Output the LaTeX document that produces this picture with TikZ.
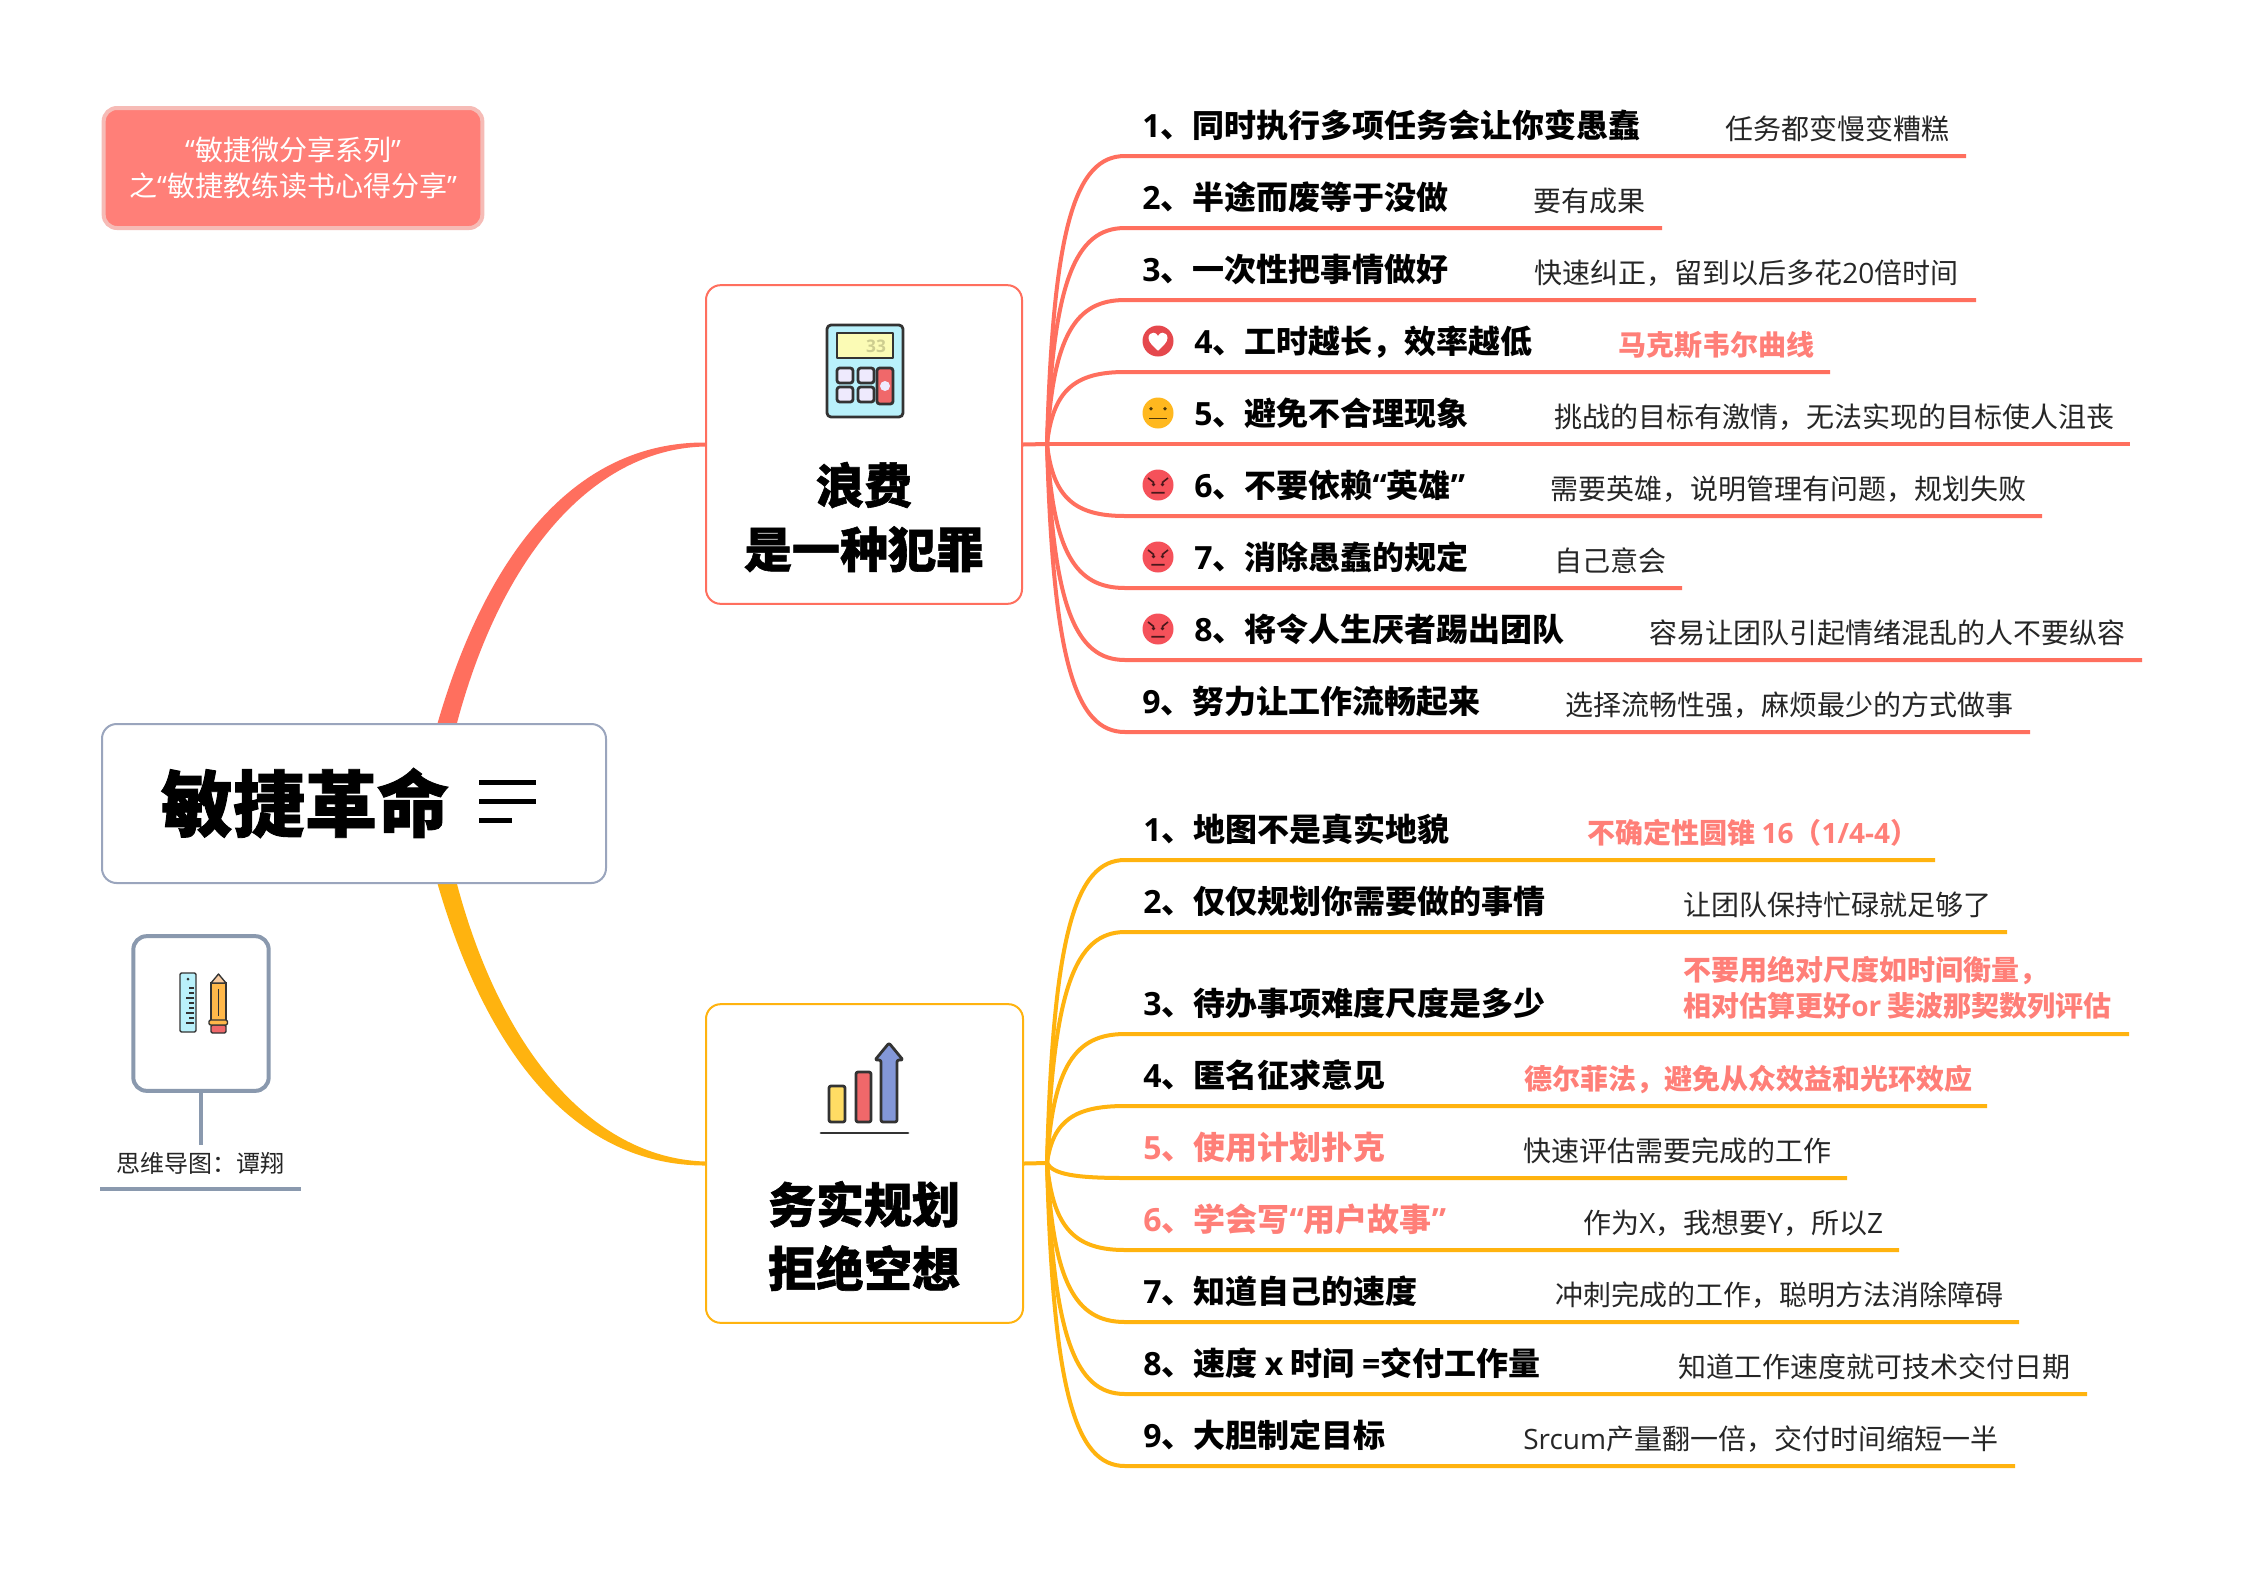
\documentclass[tikz,border=0pt]{standalone}
\usepackage{fontspec}
\usetikzlibrary{calc}
\setmainfont{Noto Sans CJK SC}
\newfontfamily\lat{Open Sans}
\newfontfamily\heavy[BoldFeatures={FakeBold=1.2}]{Noto Sans CJK SC}
\newcommand\La[1]{{\lat #1}}
\definecolor{cA}{HTML}{FF6F5E}
\definecolor{cB}{HTML}{FFB30F}
\definecolor{pk}{HTML}{FF7F78}
\definecolor{pkb}{HTML}{F6BBB6}
\definecolor{gy}{HTML}{8A99AE}
\definecolor{gyc}{HTML}{9AA5BD}
\definecolor{ink}{HTML}{333333}
\definecolor{emoR}{HTML}{F5515A}
\definecolor{emoH}{HTML}{E5484D}
\definecolor{emoY}{HTML}{FFB81F}
\definecolor{icCy}{HTML}{B9F1FB}
\definecolor{icSc}{HTML}{FBFBB5}
\definecolor{icBt}{HTML}{EEEAFD}
\definecolor{icRd}{HTML}{F0686A}
\definecolor{icYl}{HTML}{FFDC64}
\definecolor{icBl}{HTML}{8397D8}
\definecolor{icOr}{HTML}{FFB84A}
\definecolor{icTp}{HTML}{F8CBA0}
\definecolor{ic33}{HTML}{CDCD90}
\tikzset{
  maintext/.style={font=\bfseries\fontsize{24}{30}\selectfont,anchor=base west,inner sep=0pt,text=black},
  notetext/.style={font=\fontsize{21}{27}\selectfont,anchor=base west,inner sep=0pt,text=black!85},
  noteb/.style={font=\bfseries\fontsize{21}{27}\selectfont,anchor=base west,inner sep=0pt,text=pk},
  brtitle/.style={font=\heavy\bfseries\fontsize{36}{48}\selectfont,align=center,inner sep=0pt,text=black},
  brbox/.style={draw=#1,line width=1.5pt,rounded corners=11pt,fill=white,minimum width=237pt,minimum height=239pt,inner sep=0pt},
  icon/.style={draw=ink,line width=2.1pt,line join=round},
}
% hub, id, y of line, x end, colour
\newcommand\BrLine[5]{%
  \coordinate (s#2) at (1125,#3);
  \coordinate (e#2) at (#4,#3);
  \draw[#5,line width=3pt,line join=round] (#1) .. controls +(6,{0.75*(#3-\hy)}) and +(-50,0) .. (s#2) -- (e#2);
}
\newcommand\angryface[2]{%
  \begin{scope}[shift={(#1,#2)}]
    \fill[emoR] (0,0) circle (15.5);
    \draw[line width=1.2pt,draw=black!70!emoR] (-10,-7) -- (-4,-2.3) (10,-7) -- (4,-2.3) (-6.7,7.7) -- (6.7,7.7);
    \fill[black!70!emoR] (-4.5,-0.5) circle (1.8) (4.5,-0.5) circle (1.8);
  \end{scope}}
\begin{document}
\begin{tikzpicture}[x=0.75pt,y=-0.75pt]
\useasboundingbox (0,0) rectangle (2242,1568);
\fill[white] (0,0) rectangle (2242,1568);

% nodes for the main boxes
\node[brbox=cA] (brA) at (864,444.5) {};
\node[brbox=cB,minimum width=237.75pt] (brB) at (864.5,1163.5) {};
\coordinate (hubA) at (1047,444);
\coordinate (hubB) at (1047,1163);

% tapered main branches
\fill[cA] (431,747) .. controls (482,552) and (576,442) .. ($(brA.west)+(0,-2)$) -- ($(brA.west)+(0,2)$) .. controls (590,449) and (494,562) .. (451,747) -- cycle;
\fill[cB] (431,860) .. controls (482,1055) and (576,1165.5) .. ($(brB.west)+(0,2)$) -- ($(brB.west)+(0,-2)$) .. controls (590,1158) and (494,1045) .. (451,860) -- cycle;

% central box
\node[draw=gyc,line width=1.5pt,rounded corners=11pt,fill=white,minimum width=378pt,minimum height=119.25pt,inner sep=0pt] (root) at (354,803.5) {};
\node[font=\heavy\bfseries\fontsize{54}{60}\selectfont,inner sep=0pt] (roott) at (305,803) {敏捷革命};
\coordinate (b1) at (479,782); \coordinate (b1e) at (536,782);
\coordinate (b2) at (479,801); \coordinate (b2e) at (536,801);
\coordinate (b3) at (479,820); \coordinate (b3e) at (512,820);
\draw[black,line width=3.75pt] (b1) -- (b1e) (b2) -- (b2e) (b3) -- (b3e);

% top-left box
\node[draw=pkb,fill=pk,line width=3pt,rounded corners=10pt,minimum width=284pt,minimum height=90pt,inner sep=0pt,
  text=white,align=center,font=\fontsize{21}{27}\selectfont] (series) at (293,168) {\La{“}敏捷微分享系列\La{”}\\之\La{“}敏捷教练读书心得分享\La{”}};

% small pen box
\node[draw=gy,line width=3pt,rounded corners=10pt,fill=white,minimum width=101.5pt,minimum height=116pt,inner sep=0pt] (pen) at (201,1013.5) {};
\coordinate (penl) at (201,1145);
\draw[gy,line width=3pt] (pen.south -| penl) -- (penl);
\node[font=\fontsize{18}{22}\selectfont,inner sep=0pt,text=black!85] (penlabel) at (200.5,1163) {思维导图：谭翔};
\coordinate (ul1) at (100,1189); \coordinate (ul2) at (301,1189);
\draw[gy,line width=3pt] (ul1) -- (ul2);
% ruler
\draw[fill=icCy,draw=ink,line width=1pt,rounded corners=1pt] (180,973) rectangle (196,1032);
\fill[ink] (188,979) circle (1.5);
\foreach \yy/\ww in {988/5,993/5,998/8,1003/5,1008/5,1013/8,1018/5,1023/8}
  \draw[ink,line width=0.8pt] (194,\yy) -- ++(-\ww,0);
% pencil
\draw[fill=icOr,draw=ink,line width=1pt] (211,983) rectangle (226,1021);
\draw[fill=icTp,draw=ink,line width=1pt,line join=round] (211,983) -- (218.5,974) -- (226,983) -- cycle;
\draw[ink,line width=0.6pt] (218.5,989) -- (218.5,1016);
\draw[fill=icRd,draw=ink,line width=1pt,rounded corners=1pt] (211,1025) rectangle (226,1033);
\draw[fill=icOr,draw=ink,line width=1pt,rounded corners=1pt] (209,1020) rectangle (227.5,1025);

% branch titles
\node[brtitle] (ta) at (864,517) {浪费\\是一种犯罪};
\node[brtitle] (tb) at (864,1236) {务实规划\\拒绝空想};

% calculator
\draw[icon,fill=icCy,rounded corners=3pt] (827,325) rectangle (903,417);
\draw[icon,fill=icSc] (837,333) rectangle (893,358);
\node[font=\bfseries\fontsize{13}{14}\selectfont\lat,text=ic33,inner sep=0pt] (c33) at (876,346) {33};
\foreach \x in {837,858} \foreach \y in {368,387}
  \draw[icon,fill=icBt,rounded corners=2pt] (\x,\y) rectangle ++(16,15);
\draw[icon,fill=icRd,rounded corners=2pt] (877,368) rectangle (893,404);
\fill[icBt] (885,386) circle (5);

% chart
\draw[ink,line width=2.1pt,line cap=round] (821,1133) -- (908,1133);
\draw[icon,fill=icYl,rounded corners=1.5pt] (829,1086) rectangle (845,1122);
\draw[icon,fill=icRd,rounded corners=1.5pt] (856,1072) rectangle (871,1122);
\draw[icon,fill=icBl,rounded corners=1.5pt] (881,1122) -- (881,1060) -- (875,1060) -- (889,1043) -- (903,1060) -- (897,1060) -- (897,1122) -- cycle;

% branch A items
\def\hy{444}
\draw[cA,line width=3pt] (brA.east) -- (hubA);
\BrLine{hubA}{a1}{156}{1966}{cA}
\BrLine{hubA}{a2}{228}{1662}{cA}
\BrLine{hubA}{a3}{300}{1976}{cA}
\BrLine{hubA}{a4}{372}{1830}{cA}
\BrLine{hubA}{a5}{444}{2130}{cA}
\BrLine{hubA}{a6}{516}{2042}{cA}
\BrLine{hubA}{a7}{588}{1682}{cA}
\BrLine{hubA}{a8}{660}{2142}{cA}
\BrLine{hubA}{a9}{732}{2030}{cA}
\node[maintext] (ma1) at (1142,137) {\La{1}、同时执行多项任务会让你变愚蠢};
\node[notetext] (na1) at (1725,139) {任务都变慢变糟糕};
\node[maintext] (ma2) at (1142,209) {\La{2}、半途而废等于没做};
\node[notetext] (na2) at (1533,211) {要有成果};
\node[maintext] (ma3) at (1142,281) {\La{3}、一次性把事情做好};
\node[notetext] (na3) at (1534,283) {快速纠正，留到以后多花\La{20}倍时间};
\node[maintext] (ma4) at (1194,353) {\La{4}、工时越长，效率越低};
\node[noteb] (na4) at (1618,355) {马克斯韦尔曲线};
\node[maintext] (ma5) at (1194,425) {\La{5}、避免不合理现象};
\node[notetext] (na5) at (1554,427) {挑战的目标有激情，无法实现的目标使人沮丧};
\node[maintext] (ma6) at (1194,497) {\La{6}、不要依赖\La{“}英雄\La{”}};
\node[notetext] (na6) at (1550,499) {需要英雄，说明管理有问题，规划失败};
\node[maintext] (ma7) at (1194,569) {\La{7}、消除愚蠢的规定};
\node[notetext] (na7) at (1554,571) {自己意会};
\node[maintext] (ma8) at (1194,641) {\La{8}、将令人生厌者踢出团队};
\node[notetext] (na8) at (1649,643) {容易让团队引起情绪混乱的人不要纵容};
\node[maintext] (ma9) at (1142,713) {\La{9}、努力让工作流畅起来};
\node[notetext] (na9) at (1565,715) {选择流畅性强，麻烦最少的方式做事};

% emoji
\begin{scope}[shift={(1158,341)}]
  \fill[emoH] (0,0) circle (15.5);
  \fill[white] (0,9.7) .. controls (-4,6) and (-9.5,1.5) .. (-9.5,-3) .. controls (-9.5,-6.5) and (-7,-8.3) .. (-4.5,-8.3) .. controls (-2.5,-8.3) and (-1,-7) .. (0,-5) .. controls (1,-7) and (2.5,-8.3) .. (4.5,-8.3) .. controls (7,-8.3) and (9.5,-6.5) .. (9.5,-3) .. controls (9.5,1.5) and (4,6) .. (0,9.7) -- cycle;
\end{scope}
\begin{scope}[shift={(1158,413)}]
  \fill[emoY] (0,0) circle (15.5);
  \fill[black!70!emoY] (-7,-4.3) circle (1.9) (7,-4.3) circle (1.9);
  \draw[black!70!emoY,line width=1.2pt] (-8.7,5.3) -- (8.7,5.3);
\end{scope}
\angryface{1158}{485}
\angryface{1158}{557}
\angryface{1158}{629}

% branch B items
\def\hy{1163}
\draw[cB,line width=3pt] (brB.east) -- (hubB);
\BrLine{hubB}{b1}{860}{1935}{cB}
\BrLine{hubB}{b2}{932}{2007}{cB}
\BrLine{hubB}{b3}{1034}{2129}{cB}
\BrLine{hubB}{b4}{1106}{1987}{cB}
\BrLine{hubB}{b5}{1178}{1847}{cB}
\BrLine{hubB}{b6}{1250}{1899}{cB}
\BrLine{hubB}{b7}{1322}{2019}{cB}
\BrLine{hubB}{b8}{1394}{2087}{cB}
\BrLine{hubB}{b9}{1466}{2015}{cB}
\node[maintext] (mb1) at (1143,841) {\La{1}、地图不是真实地貌};
\node[noteb] (nb1) at (1587,843) {不确定性圆锥 \La{16}（\La{1/4-4}）};
\node[maintext] (mb2) at (1143,913) {\La{2}、仅仅规划你需要做的事情};
\node[notetext] (nb2) at (1683,915) {让团队保持忙碌就足够了};
\node[maintext] (mb3) at (1143,1015) {\La{3}、待办事项难度尺度是多少};
\node[noteb,anchor=west,align=left] (nb3) at (1683,988) {不要用绝对尺度如时间衡量，\\相对估算更好\La{or} 斐波那契数列评估};
\node[maintext] (mb4) at (1143,1087) {\La{4}、匿名征求意见};
\node[noteb] (nb4) at (1524,1089) {德尔菲法，避免从众效益和光环效应};
\node[maintext,text=pk] (mb5) at (1143,1159) {\La{5}、使用计划扑克};
\node[notetext] (nb5) at (1523,1161) {快速评估需要完成的工作};
\node[maintext,text=pk] (mb6) at (1143,1231) {\La{6}、学会写\La{“}用户故事\La{”}};
\node[notetext] (nb6) at (1583,1233) {作为\La{X}，我想要\La{Y}，所以\La{Z}};
\node[maintext] (mb7) at (1143,1303) {\La{7}、知道自己的速度};
\node[notetext] (nb7) at (1555,1305) {冲刺完成的工作，聪明方法消除障碍};
\node[maintext] (mb8) at (1143,1375) {\La{8}、速度 \La{x} 时间 \La{=}交付工作量};
\node[notetext] (nb8) at (1678,1377) {知道工作速度就可技术交付日期};
\node[maintext] (mb9) at (1143,1447) {\La{9}、大胆制定目标};
\node[notetext] (nb9) at (1523,1449) {\La{Srcum}产量翻一倍，交付时间缩短一半};
\end{tikzpicture}
\end{document}
